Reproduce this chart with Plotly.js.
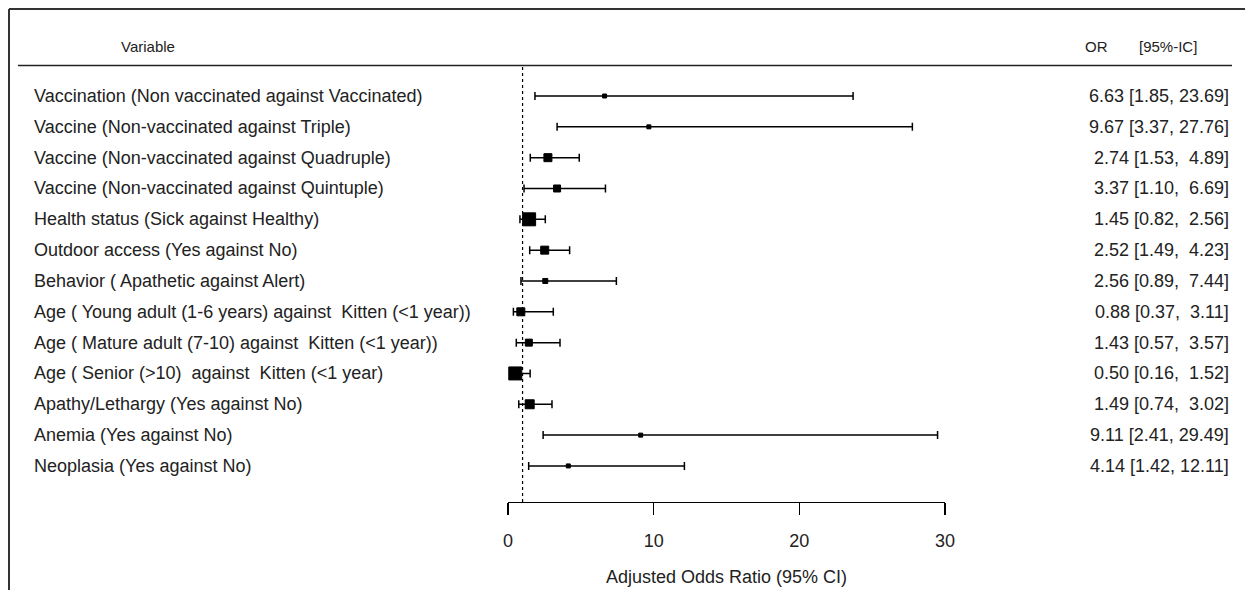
<!DOCTYPE html>
<html>
<head>
<meta charset="utf-8">
<script src="https://cdn.plot.ly/plotly-3.0.1.min.js"></script>
<style>html,body{margin:0;padding:0;background:#fff;}#chart{width:1245px;height:590px;}</style>
</head>
<body>
<div id="chart"></div>
<script>
// ---- data ----
const variables = [
  "Vaccination (Non vaccinated against Vaccinated)",
  "Vaccine (Non-vaccinated against Triple)",
  "Vaccine (Non-vaccinated against Quadruple)",
  "Vaccine (Non-vaccinated against Quintuple)",
  "Health status (Sick against Healthy)",
  "Outdoor access (Yes against No)",
  "Behavior ( Apathetic against Alert)",
  "Age ( Young adult (1-6 years) against\u00A0 Kitten (&lt;1 year))",
  "Age ( Mature adult (7-10) against\u00A0 Kitten (&lt;1 year))",
  "Age ( Senior (&gt;10)\u00A0 against\u00A0 Kitten (&lt;1 year)",
  "Apathy/Lethargy (Yes against No)",
  "Anemia (Yes against No)",
  "Neoplasia (Yes against No)"
];
const oddsRatio = [6.63, 9.67, 2.74, 3.37, 1.45, 2.52, 2.56, 0.88, 1.43, 0.50, 1.49, 9.11, 4.14];
const ciLower   = [1.85, 3.37, 1.53, 1.10, 0.82, 1.49, 0.89, 0.37, 0.57, 0.16, 0.74, 2.41, 1.42];
const ciUpper   = [23.69, 27.76, 4.89, 6.69, 2.56, 4.23, 7.44, 3.11, 3.57, 1.52, 3.02, 29.49, 12.11];
const weight    = [4, 4, 8, 7, 13, 8, 5, 8, 7, 13, 9, 4, 4];
const xTicks    = [0, 10, 20, 30];
const nullValue = 1;

// ---- layout helpers (pixel -> paper) ----
const W = 1245, H = 590;
const M = {l: 508, r: 300, t: 65, b: 88};
const pw = W - M.l - M.r, ph = H - M.t - M.b;
const px = v => (v - M.l) / pw;
const py = v => (H - M.b - v) / ph;

const fmt = v => v.toFixed(2);
const pad = (s, n) => "\u00A0".repeat(Math.max(0, n - s.length)) + s;
const ciText = oddsRatio.map((o, i) => fmt(o) + " [" + fmt(ciLower[i]) + ",\u00A0" + pad(fmt(ciUpper[i]), 5) + "]");

const FONT = "Liberation Sans, Arial, sans-serif";
const TXT = "#222";

const trace = {
  type: "scatter",
  mode: "markers",
  x: oddsRatio,
  y: variables,
  marker: {symbol: "square", color: "#000", opacity: 1, size: weight, line: {color: "#000", width: 1}},
  error_x: {
    type: "data", symmetric: false,
    array: oddsRatio.map((o, i) => ciUpper[i] - o),
    arrayminus: oddsRatio.map((o, i) => o - ciLower[i]),
    color: "#000", thickness: 1.5, width: 4
  },
  hoverinfo: "x+y",
  showlegend: false
};

const annotations = [];
variables.forEach((v, i) => {
  annotations.push({xref: "paper", yref: "y", x: px(32), y: v, text: v, showarrow: false,
    xanchor: "left", yanchor: "middle", font: {family: FONT, size: 18, color: TXT}});
  annotations.push({xref: "paper", yref: "y", x: px(1231), y: v, text: ciText[i], showarrow: false,
    xanchor: "right", yanchor: "middle", font: {family: FONT, size: 18, color: TXT}});
});
annotations.push({xref: "paper", yref: "paper", x: px(148), y: py(46), text: "Variable", showarrow: false,
  xanchor: "center", yanchor: "middle", font: {family: FONT, size: 15, color: TXT}});
annotations.push({xref: "paper", yref: "paper", x: px(1096), y: py(46), text: "OR", showarrow: false,
  xanchor: "center", yanchor: "middle", font: {family: FONT, size: 15, color: TXT}});
annotations.push({xref: "paper", yref: "paper", x: px(1168), y: py(46), text: "[95%-IC]", showarrow: false,
  xanchor: "center", yanchor: "middle", font: {family: FONT, size: 15, color: TXT}});

const shapes = [
  // outer frame (top and left)
  {type: "line", xref: "paper", yref: "paper", x0: px(9), x1: px(1250), y0: py(9), y1: py(9), line: {color: "#333", width: 2}},
  {type: "line", xref: "paper", yref: "paper", x0: px(9), x1: px(9), y0: py(9), y1: py(595), line: {color: "#333", width: 2}},
  // header rule
  {type: "line", xref: "paper", yref: "paper", x0: px(18), x1: px(1232), y0: py(65.5), y1: py(65.5), line: {color: "#222", width: 1.5}},
  // null line
  {type: "line", xref: "x", yref: "paper", x0: nullValue, x1: nullValue, y0: 0, y1: 1, line: {color: "#000", width: 1.2, dash: "dot"}}
];

const layout = {
  width: W, height: H,
  margin: M,
  paper_bgcolor: "#fff", plot_bgcolor: "#fff",
  font: {family: FONT, color: TXT},
  showlegend: false,
  xaxis: {
    range: [0, 30], tickvals: xTicks, ticktext: xTicks.map(String),
    showline: true, linecolor: "#000", linewidth: 1.3,
    ticks: "outside", ticklen: 12, tickwidth: 1.3, tickcolor: "#000",
    ticklabelstandoff: 10,
    showgrid: false, zeroline: false, fixedrange: true,
    tickfont: {family: FONT, size: 18, color: TXT},
    title: {text: "Adjusted Odds Ratio (95% CI)", font: {family: FONT, size: 18, color: TXT}, standoff: 20}
  },
  yaxis: {
    type: "category", categoryorder: "array", categoryarray: variables,
    range: [13.17, -1.006],
    showticklabels: false, showgrid: false, zeroline: false, showline: false, ticks: "", fixedrange: true
  },
  annotations: annotations,
  shapes: shapes
};

Plotly.newPlot("chart", [trace], layout, {displayModeBar: false, staticPlot: true});
</script>
</body>
</html>
